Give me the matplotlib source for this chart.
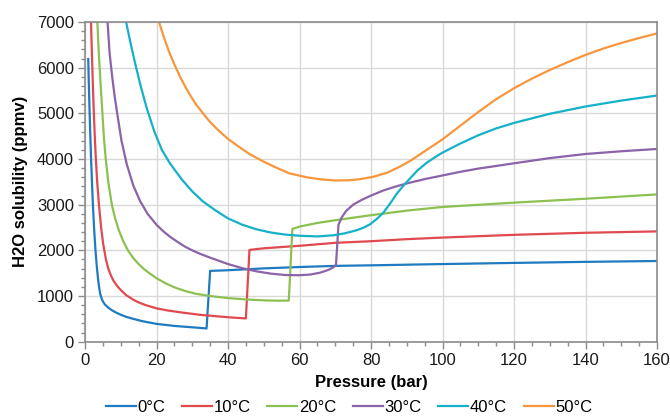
import matplotlib
matplotlib.use("Agg")
import matplotlib.pyplot as plt
from matplotlib.ticker import MultipleLocator

plt.rcParams['font.family'] = ['Liberation Sans', 'DejaVu Sans']

labels = ["0°C", "10°C", "20°C", "30°C", "40°C", "50°C"]
colors = ["#1f7bc1", "#e04a4f", "#8cc152", "#8a63a8", "#14b1c8", "#f7963c"]

x_0 = [0.9, 1.05, 1.2, 1.45, 1.7, 1.95, 2.2, 2.55, 2.9, 3.3, 3.7, 4.2, 4.8, 5.5, 6.5, 7.5, 8.5,
       10, 11.5, 13, 16, 20, 25, 30, 34,
       35, 40, 50, 60, 70, 80, 100, 120, 140, 160]
y_0 = [6190, 5700, 5250, 4580, 4000, 3480, 3000, 2470, 2030, 1640, 1330, 1060, 910, 820, 745, 690, 645,
       590, 545, 510, 450, 390, 345, 315, 290,
       1550, 1565, 1605, 1635, 1660, 1672, 1700, 1725, 1748, 1767]

x_10 = [1.68, 1.85, 2.05, 2.2, 2.4, 2.7, 3.0, 3.4, 3.9, 4.5, 5.1, 5.8, 6.5, 7.3, 8, 9, 10, 11.5,
        13.5, 15, 17, 20, 23, 27, 32, 37, 41, 45,
        46, 50, 60, 70, 80, 90, 100, 120, 140, 160]
y_10 = [7000, 6500, 6000, 5600, 5150, 4550, 4050, 3500, 3000, 2500, 2130, 1820, 1600, 1440, 1330, 1220, 1130, 1020,
        920, 860, 800, 730, 685, 640, 590, 555, 530, 510,
        2010, 2045, 2100, 2165, 2200, 2245, 2280, 2340, 2385, 2415]

x_20 = [3.45, 3.8, 4.2, 4.5, 4.85, 5.3, 5.8, 6.5, 7.5, 8.5, 9.5, 10.7, 12, 13.5, 15, 16.5, 18, 20,
        22.5, 25, 28, 31, 35, 40, 45, 50, 54, 57,
        58, 60, 65, 70, 80, 90, 100, 120, 140, 160]
y_20 = [7000, 6400, 5850, 5450, 5020, 4450, 4000, 3500, 3000, 2680, 2430, 2200, 2000, 1830, 1700, 1590, 1500, 1390,
        1280, 1190, 1110, 1050, 1000, 955, 925, 905, 898, 900,
        2470, 2520, 2600, 2660, 2770, 2870, 2950, 3045, 3130, 3225]

x_30 = [6.3, 6.9, 7.6, 8.3, 9.0, 10.2, 11.7, 13.5, 15.4, 17.5, 20, 22, 24, 26, 28, 30, 32, 35,
        40, 44, 48, 52, 56, 60, 63, 65.7, 68, 69.5, 70.2,
        70.9, 71.8, 73, 75, 77.5, 80, 83.4, 87, 90, 95, 100, 105, 110, 120, 130, 140, 150, 160]
y_30 = [7000, 6300, 5800, 5370, 5000, 4400, 3880, 3420, 3080, 2800, 2560, 2410, 2285, 2180, 2080, 2000, 1930, 1840,
        1700, 1610, 1540, 1490, 1460, 1455, 1470, 1510, 1570, 1630, 1680,
        2560, 2720, 2860, 3000, 3110, 3200, 3310, 3400, 3465, 3560, 3640, 3720, 3790, 3906, 4020, 4110, 4170, 4220]

x_40 = [11.5, 12.7, 14.0, 15.5, 17.2, 19.4, 21.5, 23.8, 27, 30, 33, 36.4, 40, 44, 48, 52, 56, 60,
        65, 69.5, 72.5, 76, 78, 79.7, 81.5, 83.4, 85.3, 87.2, 89, 90.5, 93, 95.6, 98, 100,
        105, 110, 115, 120, 130, 140, 150, 160]
y_40 = [7000, 6550, 6100, 5620, 5130, 4600, 4200, 3900, 3560, 3290, 3070, 2880, 2700, 2560, 2460, 2390, 2345, 2320,
        2305, 2330, 2370, 2440, 2500, 2570, 2680, 2820, 3020, 3240, 3410, 3540, 3750, 3920, 4045, 4140,
        4340, 4520, 4670, 4790, 4990, 5150, 5280, 5390]

x_50 = [20.7, 22, 23.5, 25, 26.6, 28, 29.4, 31, 33.1, 35, 37, 40, 43, 46, 50, 53, 57, 62,
        66, 70, 74, 77, 80.6, 84.5, 88, 91, 95, 100, 105, 110, 115, 120, 125, 130, 135, 140,
        145, 150, 155, 160]
y_50 = [7000, 6680, 6350, 6070, 5800, 5590, 5400, 5200, 4990, 4810, 4650, 4440, 4270, 4110, 3940, 3830, 3690, 3600,
        3555, 3530, 3535, 3560, 3610, 3700, 3830, 3960, 4170, 4430, 4730, 5030, 5310, 5550, 5760, 5950, 6120, 6280,
        6420, 6540, 6650, 6750]

series_x = [x_0, x_10, x_20, x_30, x_40, x_50]
series_y = [y_0, y_10, y_20, y_30, y_40, y_50]

fs = 12

fig = plt.figure(figsize=(6.7, 4.17), dpi=100)
ax = fig.add_axes([0.1269, 0.1806, 0.8537, 0.7666])

for xs, ys, c, lab in zip(series_x, series_y, colors, labels):
    ax.plot(xs, ys, color=c, lw=1.6, label=lab, solid_joinstyle='round')

ax.set_xlim(0, 160)
ax.set_ylim(0, 7000)
ax.xaxis.set_major_locator(MultipleLocator(20))
ax.xaxis.set_minor_locator(MultipleLocator(5))
ax.yaxis.set_major_locator(MultipleLocator(1000))
ax.yaxis.set_minor_locator(MultipleLocator(200))

ax.grid(True, which='major', color='#d9d9d9', lw=1.0)
ax.set_axisbelow(True)
for s in ax.spines.values():
    s.set_color('#8c8c8c')
    s.set_linewidth(1.2)

ax.tick_params(which='major', direction='out', length=5, width=1, color='#8c8c8c',
               labelsize=fs, labelcolor='#1a1a1a', pad=3)
ax.tick_params(which='minor', direction='out', length=3, width=1, color='#8c8c8c')

ax.set_xlabel("Pressure (bar)", fontsize=fs, fontweight='bold', va='center')
ax.xaxis.set_label_coords(0.5, -0.129)
ax.set_ylabel("H2O solubility (ppmv)", fontsize=fs, fontweight='bold', va='center')
ax.yaxis.set_label_coords(-0.1136, 0.5)

fig.legend(loc='center', bbox_to_anchor=(0.521, 0.022), ncol=6, frameon=False,
           fontsize=fs, handlelength=1.8, handletextpad=0.1, columnspacing=1.0,
           borderpad=0, borderaxespad=0)

fig.savefig("out.png", dpi=100)
